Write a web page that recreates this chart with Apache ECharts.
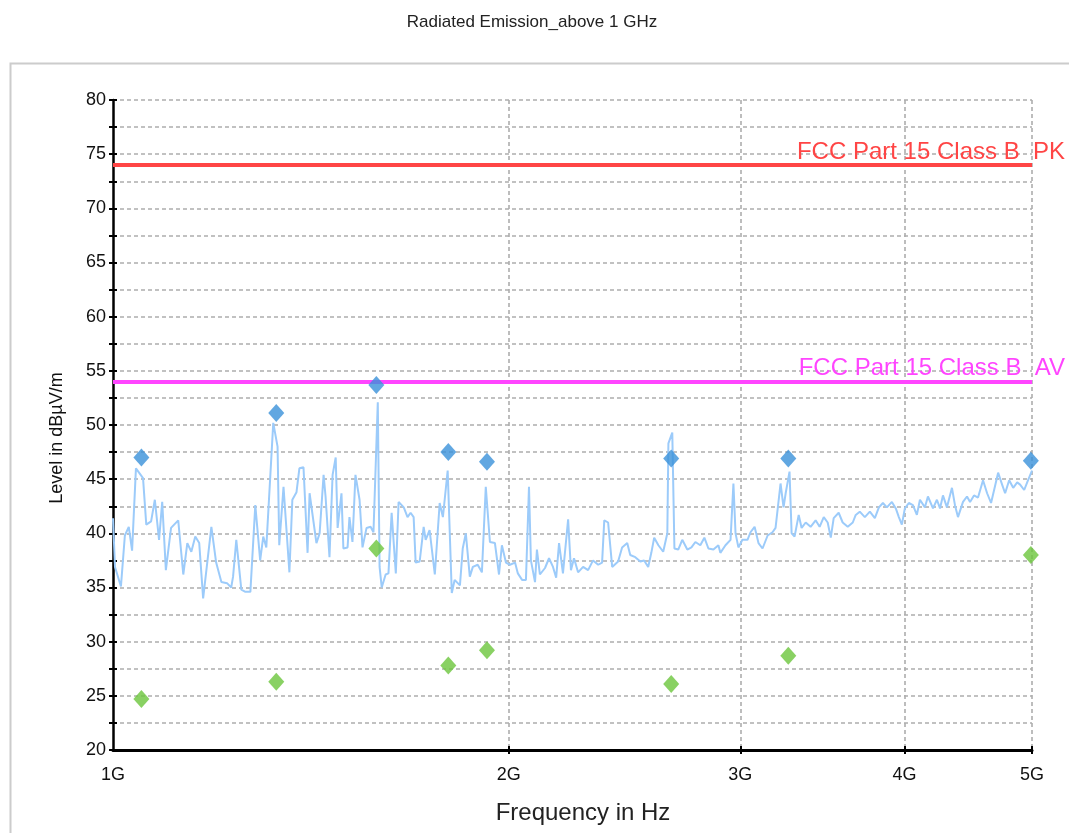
<!DOCTYPE html>
<html>
<head>
<meta charset="utf-8">
<title>Radiated Emission_above 1 GHz</title>
<script src="https://cdn.jsdelivr.net/npm/echarts@6/dist/echarts.min.js"></script>
<style>
  html, body { margin: 0; padding: 0; background: #ffffff; }
  #chart { width: 1069px; height: 833px; }
</style>
</head>
<body>
<div id="chart"></div>
<script>
// Scan trace: frequency in MHz and level in dBµV/m
const traceFreqMHz = [
  1000, 1003.5, 1014, 1021, 1028, 1034, 1041, 1054, 1060, 1069, 1076, 1084, 1090, 1097, 1107,
  1121, 1131, 1139, 1147, 1155, 1163, 1171, 1188, 1198, 1209, 1221, 1230, 1234, 1241, 1252,
  1261, 1272, 1283, 1294, 1301, 1308, 1324, 1334, 1338, 1348, 1362, 1369, 1379, 1386, 1396,
  1406, 1411, 1428, 1436, 1446, 1451, 1461, 1469, 1477, 1482, 1492, 1497, 1508, 1513, 1521,
  1529, 1540, 1548, 1559, 1570, 1578, 1590, 1595, 1601, 1612, 1620, 1629, 1641, 1649, 1664,
  1675, 1684, 1693, 1699, 1711, 1723, 1729, 1741, 1757, 1772, 1782, 1797, 1810, 1819, 1836,
  1845, 1855, 1868, 1878, 1894, 1908, 1921, 1935, 1952, 1966, 1976, 1990, 2004, 2022, 2032,
  2047, 2061, 2072, 2079, 2094, 2101, 2112, 2131, 2146, 2161, 2173, 2184, 2199, 2219, 2230,
  2242, 2258, 2278, 2298, 2318, 2339, 2355, 2364, 2380, 2397, 2422, 2439, 2461, 2474, 2496,
  2518, 2535, 2553, 2567, 2580, 2599, 2621, 2640, 2645, 2663, 2673, 2691, 2710, 2734, 2754,
  2773, 2797, 2817, 2837, 2862, 2887, 2897, 2923, 2949, 2964, 2975, 2990, 3011, 3038, 3054,
  3076, 3097, 3119, 3147, 3174, 3191, 3219, 3236, 3248, 3259, 3270, 3282, 3299, 3323, 3340,
  3364, 3393, 3423, 3447, 3472, 3496, 3515, 3533, 3564, 3589, 3621, 3653, 3672, 3698, 3731,
  3764, 3797, 3824, 3851, 3878, 3912, 3939, 3960, 3981, 4002, 4030, 4059, 4087, 4109, 4145,
  4167, 4204, 4233, 4256, 4278, 4308, 4346, 4369, 4392, 4431, 4462, 4486, 4517, 4549, 4589,
  4622, 4654, 4679, 4712, 4745, 4770, 4804, 4838, 4872, 4897, 4932, 4958, 4975, 5000
];
const traceLevel = [
  41.4, 36.9, 35.1, 39.8, 40.6, 38.4, 46.0, 45.1, 40.8, 41.1, 43.1, 39.4, 42.9, 36.6, 40.5,
  41.2, 36.2, 39.1, 38.3, 39.7, 39.1, 34.0, 40.6, 37.3, 35.5, 35.4, 35.0, 36.0, 39.4, 34.8,
  34.6, 34.6, 42.6, 37.5, 39.7, 38.7, 50.2, 48.0, 38.9, 44.3, 36.4, 43.1, 43.8, 46.0, 46.1,
  38.2, 43.7, 39.1, 40.0, 45.4, 43.4, 37.8, 45.4, 47.0, 40.5, 43.7, 38.6, 38.7, 41.5, 39.2,
  45.4, 43.1, 38.7, 40.5, 40.6, 40.1, 52.1, 36.9, 35.0, 36.2, 36.3, 41.9, 36.3, 42.9, 42.4,
  41.5, 41.9, 41.5, 37.3, 37.4, 40.6, 39.4, 40.3, 36.2, 42.8, 41.5, 45.8, 34.5, 35.7, 35.2,
  38.6, 40.0, 36.0, 36.9, 37.1, 36.4, 44.3, 39.2, 39.1, 36.2, 38.9, 37.3, 37.1, 37.3, 36.3,
  35.7, 35.7, 44.3, 37.5, 35.5, 38.5, 36.2, 36.8, 37.7, 36.9, 35.9, 39.1, 36.3, 41.3, 36.6,
  37.7, 36.4, 36.9, 36.6, 37.5, 37.1, 37.3, 41.2, 41.0, 36.9, 37.4, 38.7, 39.1, 38.0, 37.8,
  37.4, 37.5, 36.9, 38.2, 39.6, 38.9, 38.3, 40.0, 48.3, 49.3, 38.6, 38.5, 39.4, 38.5, 38.7,
  39.2, 38.9, 39.6, 38.6, 38.5, 38.9, 38.2, 38.9, 39.4, 44.6, 40.0, 38.7, 39.4, 39.4, 40.1,
  40.6, 39.1, 38.6, 39.8, 40.1, 40.5, 44.6, 42.4, 43.7, 43.8, 45.7, 40.0, 39.7, 41.7, 40.5,
  41.0, 40.6, 41.2, 40.6, 41.5, 41.0, 39.6, 41.4, 41.9, 41.0, 40.6, 41.0, 41.7, 42.0, 41.5,
  42.0, 41.4, 42.4, 42.8, 42.4, 42.9, 42.3, 41.5, 40.8, 42.3, 42.8, 42.6, 41.7, 43.1, 42.4,
  43.4, 42.3, 43.1, 42.3, 43.5, 42.4, 44.2, 42.6, 41.5, 42.9, 43.4, 42.9, 43.5, 43.3, 44.9,
  43.7, 42.8, 44.0, 45.6, 44.5, 43.7, 44.9, 44.2, 44.7, 44.5, 44.0, 44.7, 44.6, 45.8
];

// Final measurements: peak and average readings
const markerFreqMHz = [1051, 1331, 1586, 1799, 1925, 2658, 3263, 4990];
const peakLevel     = [47.0, 51.1, 53.7, 47.5, 46.6, 46.9, 46.9, 46.7];
const avgLevel      = [24.7, 26.3, 38.6, 27.8, 29.2, 26.1, 28.7, 38.0];

// Limit lines
const limitNames  = ['FCC Part 15 Class B  PK', 'FCC Part 15 Class B  AV'];
const limitLevels = [74, 54];
const limitColors = ['#ff4545', '#ff45ff'];

// Axis ticks
const freqTickValues  = [2e9, 3e9, 4e9, 5e9];
const freqLabelValues = [1e9, 2e9, 3e9, 4e9, 5e9];
const levelMin = 20, levelMax = 80, levelStep = 2.5;

const toHz = (mhz) => mhz * 1e6;
const traceData = traceFreqMHz.map((f, i) => [toHz(f), traceLevel[i]]);
const peakData  = markerFreqMHz.map((f, i) => [toHz(f), peakLevel[i]]);
const avgData   = markerFreqMHz.map((f, i) => [toHz(f), avgLevel[i]]);

const font = 'Liberation Sans, Arial, Helvetica, sans-serif';
const gridLine = { show: true, lineStyle: { color: '#adadad', width: 1.6, type: [4, 3] } };

const chart = echarts.init(document.getElementById('chart'), null, { renderer: 'canvas' });

const limitSeries = limitLevels.map((lv, i) => ({
  name: limitNames[i],
  type: 'line',
  data: [],
  z: 3,
  markLine: {
    silent: true,
    symbol: ['none', 'none'],
    animation: false,
    lineStyle: { color: limitColors[i], width: 4, type: 'solid' },
    label: {
      show: true,
      position: 'insideEndTop',
      formatter: limitNames[i],
      color: limitColors[i],
      fontFamily: font,
      fontSize: 24,
      distance: 1,
      offset: [34, 0]
    },
    data: [{ yAxis: lv }]
  }
}));

chart.setOption({
  animation: false,
  backgroundColor: '#ffffff',
  textStyle: { fontFamily: font },
  title: {
    text: 'Radiated Emission_above 1 GHz',
    left: 527,
    top: 9,
    textAlign: 'center',
    textStyle: { fontFamily: font, fontSize: 17, fontWeight: 'normal', color: '#222' }
  },
  graphic: [{
    type: 'rect',
    left: 8, top: 61,
    shape: { width: 1075, height: 771 },
    style: { fill: 'none', stroke: '#cccccc', lineWidth: 2 },
    silent: true,
    z: -10
  }],
  grid: { left: 113, right: 37, top: 100, bottom: 83, containLabel: false },
  xAxis: [{
    type: 'log',
    logBase: 10,
    min: 1e9,
    max: 5e9,
    name: 'Frequency in Hz',
    nameLocation: 'middle',
    nameGap: 51,
    nameTextStyle: { fontSize: 24, color: '#222', fontFamily: font, padding: [0, 0, 0, 21] },
    axisLine: { show: true, lineStyle: { color: '#000', width: 3 } },
    axisTick: { show: true, customValues: freqTickValues, length: 4, lineStyle: { color: '#000', width: 2 } },
    axisLabel: {
      show: true,
      customValues: freqLabelValues,
      margin: 16,
      fontSize: 18,
      color: '#111',
      fontFamily: font,
      formatter: (v) => Math.round(v / 1e9) + 'G'
    },
    splitLine: gridLine,
    minorTick: { show: false },
    minorSplitLine: { show: false }
  }, {
    type: 'log',
    logBase: 10,
    min: 1e9,
    max: 5e9,
    position: 'bottom',
    axisLine: { show: false },
    axisTick: { show: true, inside: true, customValues: freqTickValues, length: 4, lineStyle: { color: '#000', width: 2 } },
    axisLabel: { show: false },
    splitLine: { show: false }
  }],
  yAxis: [{
    type: 'value',
    min: levelMin,
    max: levelMax,
    interval: levelStep,
    name: 'Level in dBµV/m',
    nameLocation: 'middle',
    nameGap: 47,
    nameTextStyle: { fontSize: 18, color: '#111', fontFamily: font, padding: [0, 26, 0, 0] },
    axisLine: { show: true, lineStyle: { color: '#000', width: 2.5 } },
    axisTick: { show: true, length: 4, lineStyle: { color: '#000', width: 2 } },
    axisLabel: {
      margin: 7,
      fontSize: 18,
      color: '#111',
      fontFamily: font,
      formatter: (v) => (v % 5 === 0 ? String(v) : '')
    },
    splitLine: gridLine
  }, {
    type: 'value',
    min: levelMin,
    max: levelMax,
    interval: levelStep,
    position: 'left',
    axisLine: { show: false },
    axisTick: { show: true, inside: true, length: 4, lineStyle: { color: '#000', width: 2 } },
    axisLabel: { show: false },
    splitLine: { show: false }
  }],
  series: [
    ...limitSeries,
    {
      name: 'Trace',
      type: 'line',
      data: traceData,
      showSymbol: false,
      symbol: 'none',
      z: 4,
      lineStyle: { color: '#9ccbfa', width: 2 },
      emphasis: { disabled: true }
    },
    {
      name: 'Peak',
      type: 'scatter',
      data: peakData,
      symbol: 'diamond',
      symbolSize: [16, 18],
      z: 6,
      itemStyle: { color: '#3a91d9' }
    },
    {
      name: 'Average',
      type: 'scatter',
      data: avgData,
      symbol: 'diamond',
      symbolSize: [16, 18],
      z: 6,
      itemStyle: { color: '#6cc63c' }
    }
  ]
});
</script>
</body>
</html>
